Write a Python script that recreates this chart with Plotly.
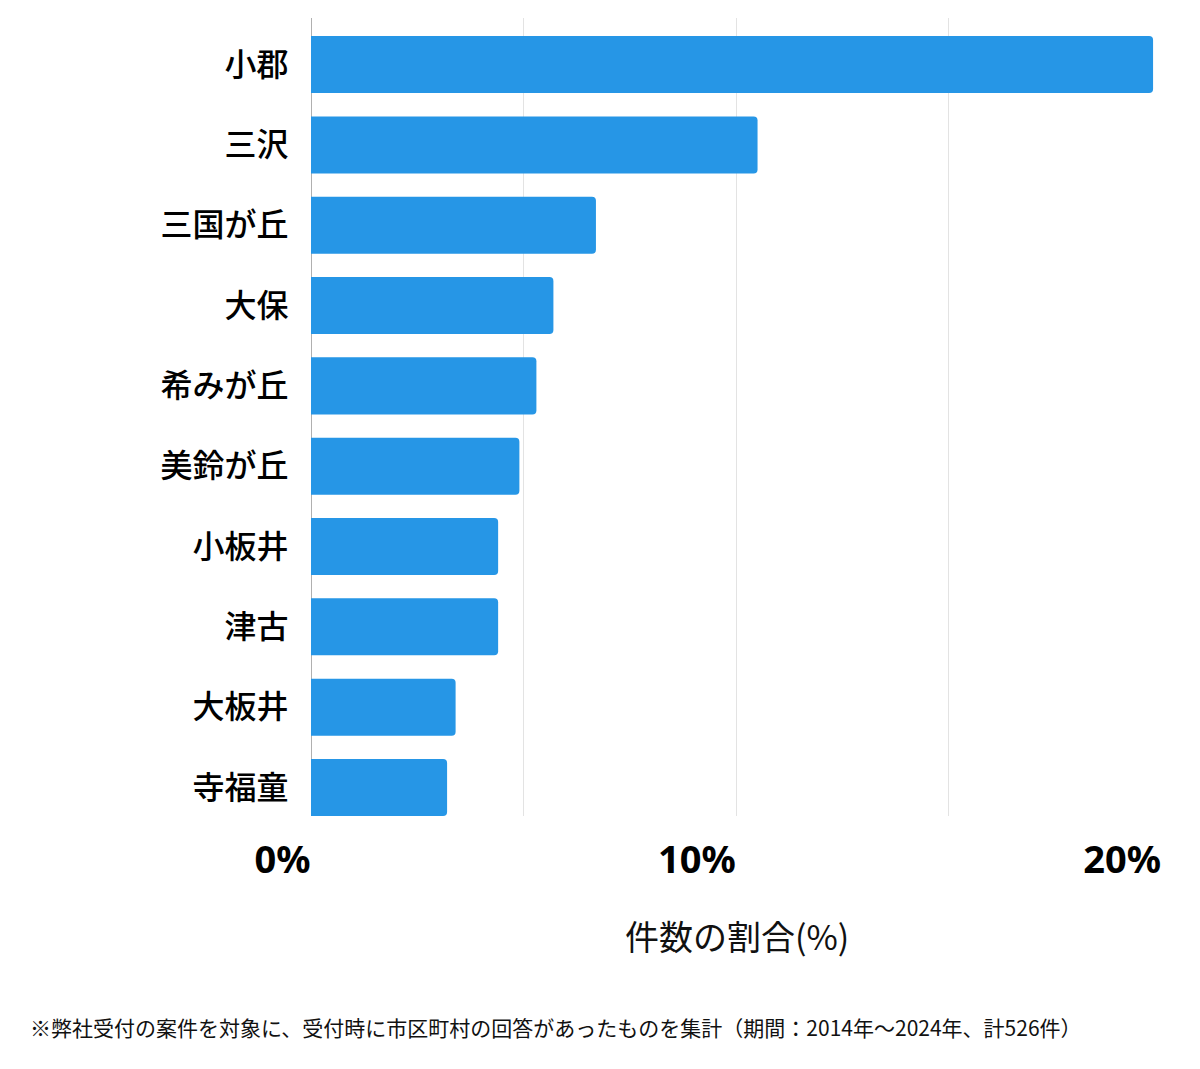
import plotly.graph_objects as go

categories = ["小郡", "三沢", "三国が丘", "大保", "希みが丘", "美鈴が丘", "小板井", "津古", "大板井", "寺福童"]
values = [19.8, 10.5, 6.7, 5.7, 5.3, 4.9, 4.4, 4.4, 3.4, 3.2]
tick_vals = [0, 10, 20]
tick_text = ["0%", "10%", "20%"]
x_title = "件数の割合(%)"
footnote = "※弊社受付の案件を対象に、受付時に市区町村の回答があったものを集計（期間：2014年～2024年、計526件）"

OFF = 8  # page body margin
W, H = 1200, 1069
L, T = 311 - OFF, 18 - OFF
R = W - (1162 - OFF)
B = H - (816 - OFF)
pw, ph = W - L - R, H - T - B
px = lambda sx: (sx - OFF - L) / pw
py = lambda sy: (H - B - (sy - OFF)) / ph

fig = go.Figure(go.Bar(
    x=values, y=list(range(len(categories))), orientation="h",
    marker=dict(color="#2696e6", line=dict(width=0)),
    width=0.71,
    hoverinfo="x+y",
))

fig.update_layout(
    width=W, height=H,
    margin=dict(l=L, r=R, t=T, b=B, autoexpand=False),
    plot_bgcolor="white", paper_bgcolor="white",
    font=dict(family="Noto Sans CJK JP", color="#111"),
    barcornerradius=4,
    showlegend=False,
    xaxis=dict(
        range=[0, 20.01], tickvals=tick_vals, ticktext=tick_text,
        ticklabelposition="outside left",
        ticks="outside", ticklen=52, tickcolor="rgba(0,0,0,0)",
        ticklabelstandoff=10,
        tickfont=dict(size=38, family="Noto Sans", weight=700, color="#000"),
        showgrid=True, gridcolor="#e3e3e3", gridwidth=1,
        minor=dict(dtick=5, tick0=0, showgrid=True, gridcolor="#e3e3e3", gridwidth=1),
        zeroline=True, zerolinecolor="#b0b0b0", zerolinewidth=1,
        showline=False, fixedrange=True,
    ),
    yaxis=dict(
        range=[len(categories) - 1 + 0.355, -0.58],
        tickvals=list(range(len(categories))), ticktext=categories,
        ticks="outside", ticklen=15, tickcolor="rgba(0,0,0,0)",
        tickfont=dict(size=32, family="Noto Sans CJK JP", weight=500, color="#000"),
        showgrid=False, zeroline=False, showline=False, fixedrange=True,
    ),
    annotations=[
        dict(text=x_title, xref="paper", yref="paper", x=px(737), y=py(935),
             xanchor="center", yanchor="middle", showarrow=False,
             font=dict(size=34, family="Noto Sans CJK JP", color="#111")),
        dict(text=footnote, xref="paper", yref="paper", x=px(28), y=py(1027),
             xanchor="left", yanchor="middle", showarrow=False,
             font=dict(size=21, family="Noto Sans CJK JP", color="#111")),
    ],
)

fig.write_html("out.html")
